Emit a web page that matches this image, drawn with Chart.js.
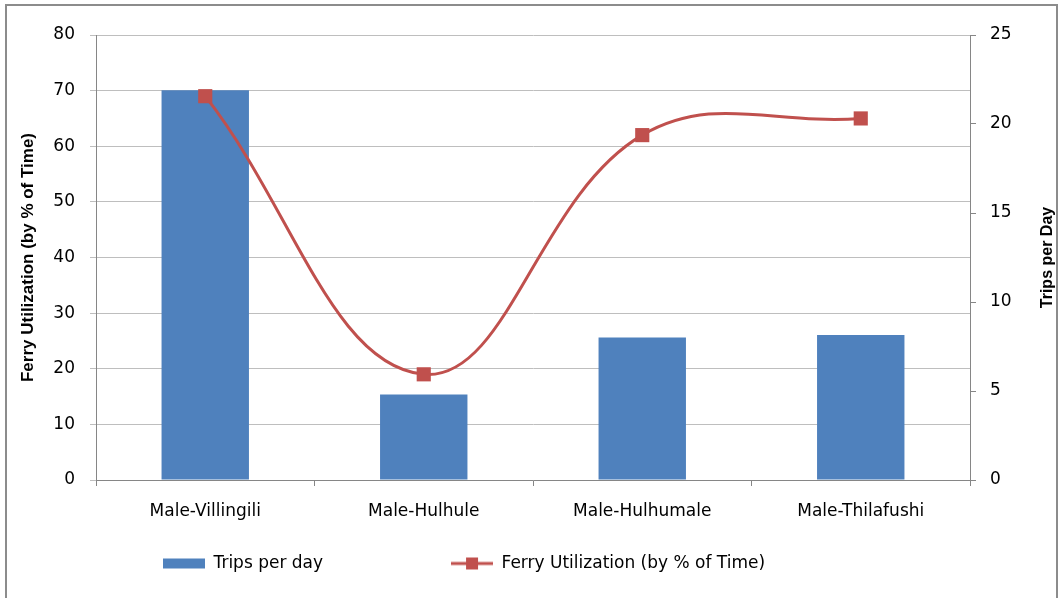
<!DOCTYPE html>
<html>
<head>
<meta charset="utf-8">
<title>Ferry trips and utilization</title>
<script src="https://cdn.jsdelivr.net/npm/chart.js@4/dist/chart.umd.min.js"></script>
<style>
  html, body { margin: 0; padding: 0; background: #fff; }
  #wrap { position: relative; width: 1060px; height: 598px; overflow: hidden; }
  #frame { position: absolute; left: 5px; top: 4px; width: 1053px; height: 640px; border: 2px solid #8c8c8c; box-sizing: border-box; }
  #chart { position: absolute; left: 0; top: 0; }
</style>
</head>
<body>
<div id="wrap">
  <div id="frame"></div>
  <canvas id="chart" width="1060" height="598"></canvas>
</div>
<script>
// Routes on the x axis
const routes = ['Male-Villingili', 'Male-Hulhule', 'Male-Hulhumale', 'Male-Thilafushi'];

// Bars, read against the right axis (0-25)
const tripsPerDay = [21.9, 4.8, 8.0, 8.15];

// Line, read against the left axis (0-80)
const utilization = [69, 19, 62, 65];

const BAR_BLUE = '#4F81BD';
const LINE_RED = '#C0504D';
const TICK_FONT = { family: 'DejaVu Sans', size: 17 };
const TITLE_FONT = 'Liberation Sans';
const LEGEND_GAP = 128;

// little pictures used as legend swatches
function legendSwatch(kind) {
    const c = document.createElement('canvas');
    c.width = 42;
    c.height = 14;
    const g = c.getContext('2d');
    if (kind === 'bar') {
        g.fillStyle = BAR_BLUE;
        g.fillRect(0, 2, 42, 10);
    } else {
        g.strokeStyle = LINE_RED;
        g.lineWidth = 3;
        g.beginPath();
        g.moveTo(0, 7);
        g.lineTo(42, 7);
        g.stroke();
        g.fillStyle = LINE_RED;
        g.fillRect(15, 1, 12, 12);
    }
    return c;
}
const swatches = [legendSwatch('bar'), legendSwatch('line')];

// put the legend where the original sits, under the left part of the plot
const legendPlacer = {
    id: 'legendPlacer',
    afterLayout(chart) {
        const lg = chart.legend;
        lg.left = 163 - LEGEND_GAP;
        lg.right = 1060;
        lg.top = 563 - 8 - LEGEND_GAP;
        lg.bottom = 598;
    }
};

// right axis title reads bottom-to-top like the left one
const rightTitle = {
    id: 'rightTitle',
    afterDraw(chart) {
        const ctx = chart.ctx;
        const area = chart.chartArea;
        ctx.save();
        ctx.translate(1048, (area.top + area.bottom) / 2);
        ctx.rotate(-Math.PI / 2);
        ctx.font = 'bold 16px "' + TITLE_FONT + '"';
        ctx.fillStyle = '#000';
        ctx.textAlign = 'center';
        ctx.textBaseline = 'middle';
        ctx.fillText('Trips per Day', 0, 0);
        ctx.restore();
    }
};

const ctx = document.getElementById('chart').getContext('2d');

new Chart(ctx, {
    type: 'bar',
    data: {
        labels: routes,
        datasets: [{
            type: 'bar',
            label: 'Trips per day',
            data: tripsPerDay,
            yAxisID: 'y1',
            backgroundColor: BAR_BLUE,
            categoryPercentage: 1,
            barPercentage: 0.4,
            order: 2
        }, {
            type: 'line',
            label: 'Ferry Utilization (by % of Time)',
            data: utilization,
            yAxisID: 'y',
            borderColor: LINE_RED,
            backgroundColor: LINE_RED,
            borderWidth: 3,
            tension: 0.4,
            pointStyle: 'rect',
            pointRadius: 10,
            pointBorderWidth: 0,
            fill: false,
            order: 1
        }]
    },
    options: {
        responsive: false,
        animation: false,
        devicePixelRatio: 1,
        layout: { padding: { left: 0, right: 0, top: 35, bottom: 0 } },
        scales: {
            x: {
                offset: true,
                grid: {
                    offset: true,
                    drawOnChartArea: false,
                    drawTicks: true,
                    tickLength: 6,
                    color: '#868686'
                },
                border: { color: '#868686' },
                ticks: { font: TICK_FONT, color: '#000', padding: 15, maxRotation: 0 },
                afterFit(scale) { scale.height = 82; }
            },
            y: {
                position: 'left',
                min: 0,
                max: 80,
                ticks: { stepSize: 10, font: TICK_FONT, color: '#000', padding: 15 },
                grid: { color: '#BEBEBE', tickLength: 6 },
                border: { color: '#868686' },
                title: {
                    display: true,
                    text: 'Ferry Utilization (by % of Time)',
                    font: { family: TITLE_FONT, size: 17, weight: 'bold' },
                    color: '#000',
                    padding: { top: 18, bottom: 0 }
                },
                afterFit(scale) { scale.width = 96; }
            },
            y1: {
                position: 'right',
                min: 0,
                max: 25,
                ticks: { stepSize: 5, font: TICK_FONT, color: '#000', padding: 14 },
                grid: { drawOnChartArea: false, tickLength: 6, color: '#868686' },
                border: { color: '#868686' },
                afterFit(scale) { scale.width = 90; }
            }
        },
        plugins: {
            tooltip: { enabled: false },
            legend: {
                position: 'bottom',
                align: 'start',
                maxHeight: 36,
                labels: {
                    usePointStyle: true,
                    pointStyleWidth: 42,
                    font: TICK_FONT,
                    color: '#000',
                    padding: LEGEND_GAP,
                    sort: (a, b) => a.datasetIndex - b.datasetIndex,
                    generateLabels(chart) {
                        const items = Chart.defaults.plugins.legend.labels.generateLabels(chart);
                        items.forEach(item => { item.pointStyle = swatches[item.datasetIndex]; });
                        return items;
                    }
                }
            }
        }
    },
    plugins: [legendPlacer, rightTitle]
});
</script>
</body>
</html>
